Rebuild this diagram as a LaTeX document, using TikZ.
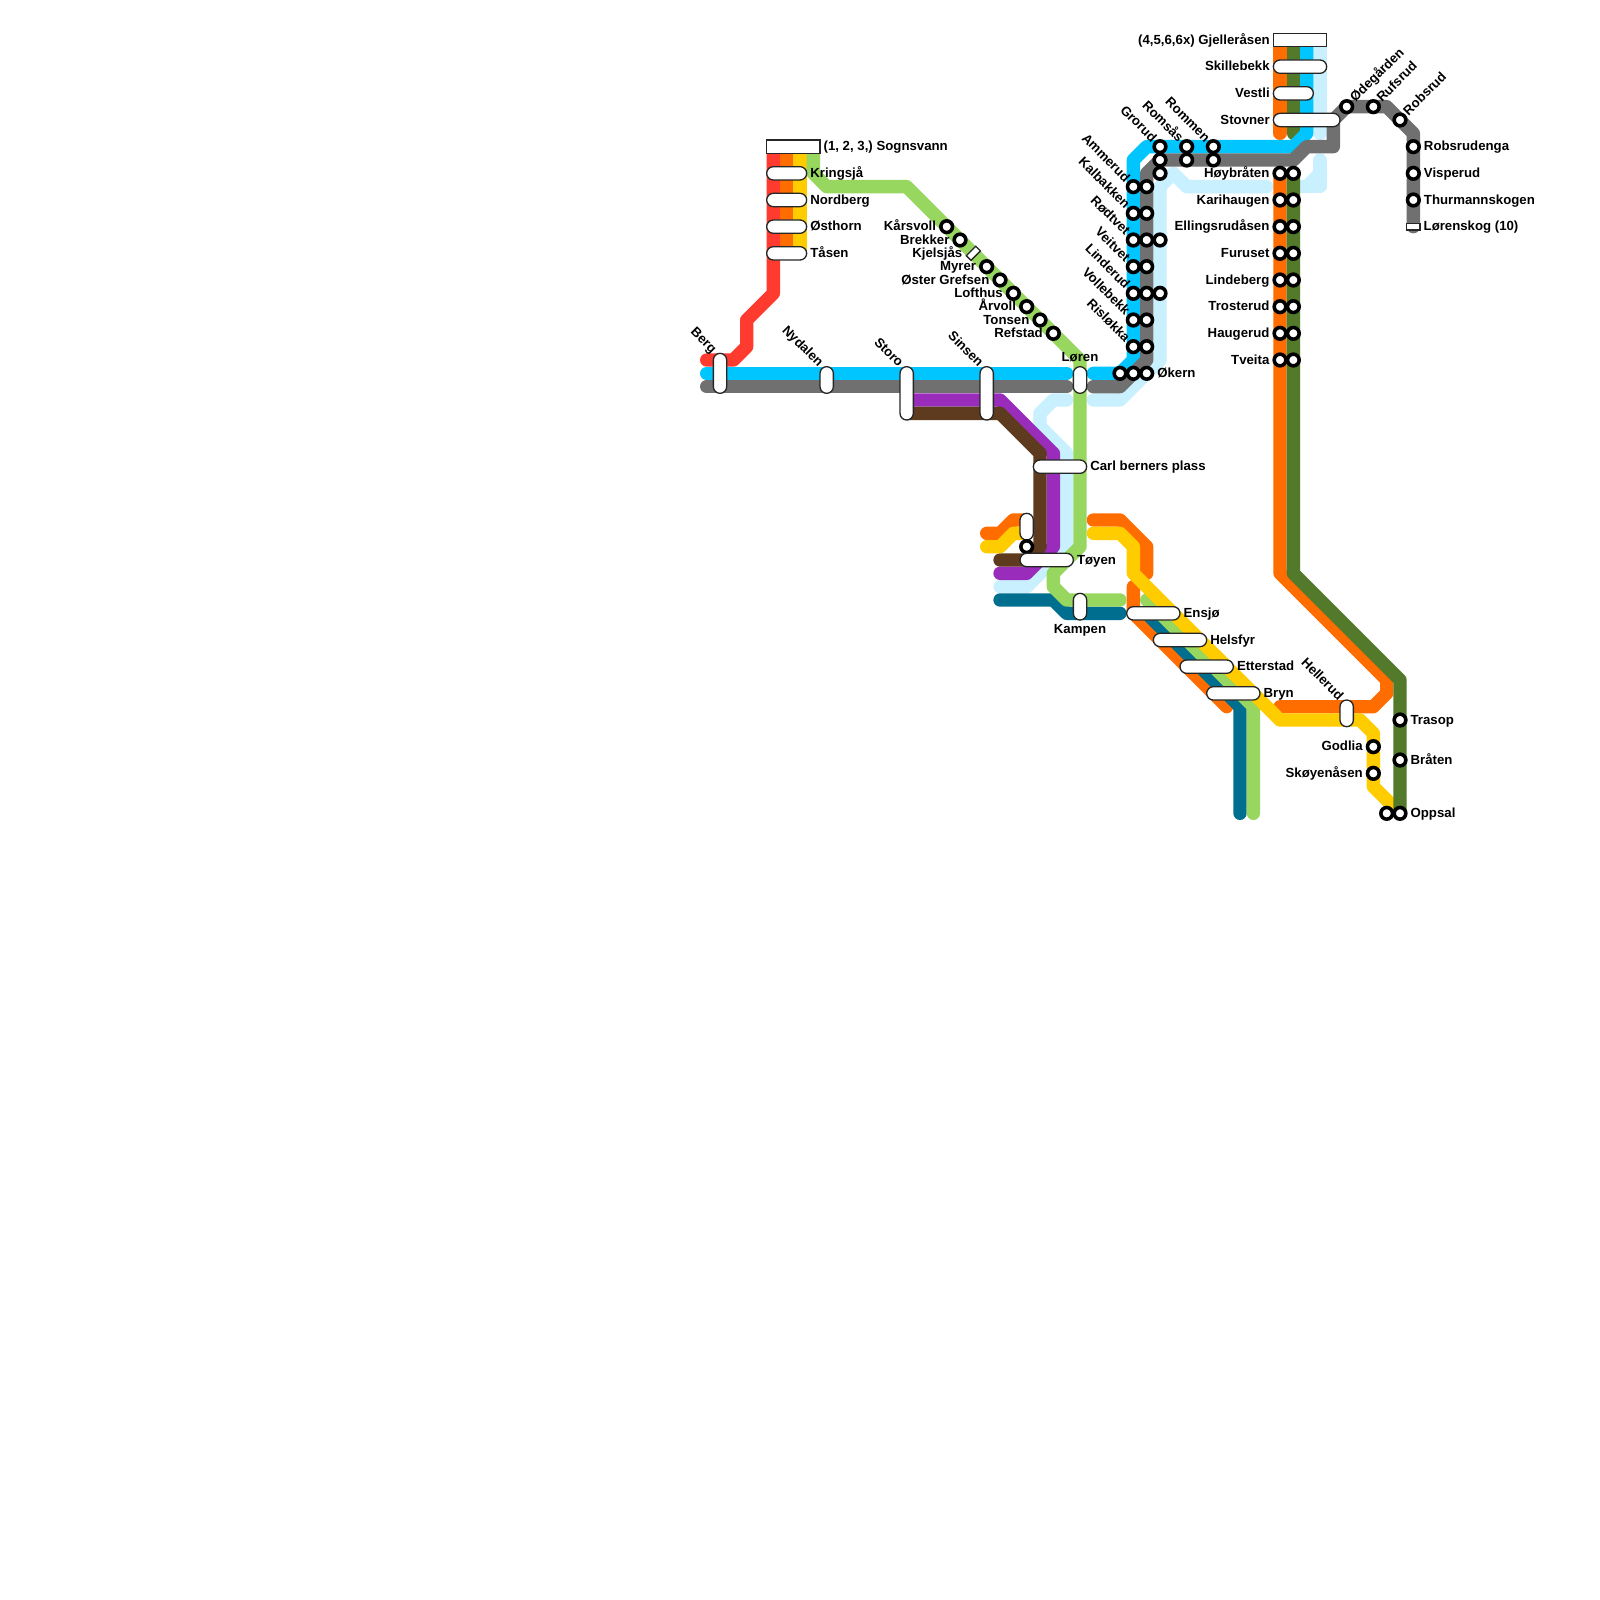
\documentclass[tikz,border=0pt]{standalone}
\usepackage{fontspec}
\setmainfont{Liberation Sans}
\usetikzlibrary{positioning}
\definecolor{cRed}{RGB}{255,59,48}
\definecolor{cOrange}{RGB}{255,108,0}
\definecolor{cYellow}{RGB}{255,204,0}
\definecolor{cGreen}{RGB}{151,214,95}
\definecolor{cBlue}{RGB}{0,197,255}
\definecolor{cGray}{RGB}{112,112,112}
\definecolor{cPurple}{RGB}{154,44,188}
\definecolor{cBrown}{RGB}{94,58,30}
\definecolor{cLight}{RGB}{201,240,255}
\definecolor{cTeal}{RGB}{0,111,143}
\definecolor{cDark}{RGB}{82,122,42}
\begin{document}
\begin{tikzpicture}[x=0.25cm, y=-0.25cm,
            ln/.style={line width=0.25cm, line cap=round, line join=round},
            st/.style={circle, draw=black, fill=white, line width=1.9pt, minimum size=0.2185cm, inner sep=0pt},
            pl/.style={rectangle, draw=black!85, fill=white, line width=0.7pt, rounded corners=0.125cm, inner sep=0pt},
            hp/.style={pl, minimum width=#1*0.25cm, minimum height=0.25cm},
            vp/.style={pl, minimum width=0.25cm, minimum height=#1*0.25cm},
            bx/.style={rectangle, draw=black!85, fill=white, line width=0.7pt, inner sep=0pt, minimum width=1cm, minimum height=0.25cm},
            mb/.style={rectangle, draw=black!85, fill=white, line width=0.7pt, inner sep=0pt, minimum width=0.25cm, minimum height=0.125cm},
            tx/.style={font=\fontsize{7.05}{8}\selectfont\bfseries, inner xsep=1.4pt, inner ysep=0pt, text height=6pt, text depth=1.4pt},
            nw/.style={yshift=0.7pt, tx, inner xsep=0pt, rotate=-45, anchor=east},
            ne/.style={yshift=0.7pt, tx, inner xsep=0pt, rotate=45, anchor=west},
            np/.style={xshift=-0.1cm, nw}]
            \useasboundingbox (0,0) rectangle (120,120);
            \fill[white] (0,0) rectangle (120,120);
            \draw[ln, cLight] (80,30)--(79,30)--(78,31)--(78,32)--(80,34)--(80,41)--(77,44)--(75,44);
            \draw[ln, cLight] (82,30)--(84,30)--(87,27)--(87,14)--(88,13)--(89,14)--(95,14);
            \draw[ln, cLight] (97,14)--(99,14)--(99,12);
            \draw[ln, cLight] (98,14)--(99,13);
            \draw[ln, cLight] (99,3)--(99,10);
            \draw[ln, cRed] (58,11)--(58,22)--(56,24)--(56,26)--(55,27)--(53,27);
            \draw[ln, cOrange] (59,11)--(59,19);
            \draw[ln, cYellow] (60,11)--(60,19);
            \draw[ln, cBlue] (53,28)--(80,28);
            \draw[ln, cGray] (53,29)--(80,29);
            \draw[ln, cPurple] (68,30)--(75,30)--(79,34)--(79,41)--(77,43)--(75,43);
            \draw[ln, cBrown] (68,31)--(75,31)--(78,34)--(78,41)--(77,42)--(75,42);
            \draw[ln, cOrange] (74,40)--(75,40)--(76,39)--(77,39);
            \draw[ln, cYellow] (74,41)--(75,41)--(76,40)--(77,40);
            \draw[ln, cOrange] (82,39)--(84,39)--(86,41)--(86,43);
            \draw[ln, cOrange] (85,44)--(85,46)--(92,53);
            \draw[ln, cOrange] (96,3)--(96,10);
            \draw[ln, cOrange] (96,13)--(96,43)--(104,51)--(104,52)--(103,53)--(96,53);
            \draw[ln, cTeal] (75,45)--(79,45)--(80,46)--(84,46);
            \draw[ln, cTeal] (86,46)--(93,53)--(93,61);
            \draw[ln, cGreen] (61,11)--(61,13)--(62,14)--(68,14)--(81,27)--(81,41)--(79,43)--(79,44)--(80,45)--(84,45);
            \draw[ln, cGreen] (86,45)--(94,53)--(94,61);
            \draw[ln, cYellow] (82,40)--(84,40)--(85,41)--(85,43)--(96,54)--(102,54)--(103,55)--(103,59)--(105,61);
            \draw[ln, cDark] (97,3)--(97,10);
            \draw[ln, cDark] (97,13)--(97,43)--(105,51)--(105,61);
            \draw[ln, cBlue] (98,3)--(98,10)--(97,11)--(86,11)--(85,12)--(85,27)--(84,28)--(82,28);
            \draw[ln, cGray] (82,29)--(84,29)--(86,27)--(86,13)--(87,12)--(97,12)--(98,11)--(100,11)--(100,9)--(101,8)--(104,8)--(106,10)--(106,17);

            \node[bx, label={[tx]right:(1, 2, 3,) Sognsvann}] (sognsvann) at (59.5,11) {};
            \node[hp=3, label={[tx]right:Kringsjå}] (kringsja) at (59,13) {};
            \node[hp=3, label={[tx]right:Nordberg}] (nordberg) at (59,15) {};
            \node[hp=3, label={[tx]right:Østhorn}] (osthorn) at (59,17) {};
            \node[hp=3, label={[tx]right:Tåsen}] (tasen) at (59,19) {};
            \node[vp=3, label={[np]north:Berg}] (berg) at (54,28) {};
            \node[vp=2, label={[np]north:Nydalen}] (nydalen) at (62,28.5) {};
            \node[vp=4, label={[np]north:Storo}] (storo) at (68,29.5) {};
            \node[vp=4, label={[np]north:Sinsen}] (sinsen) at (74,29.5) {};
            \node[vp=2, label={[tx, yshift=1.05pt]north:Løren}] (loren) at (81,28.5) {};

            \node[st, label={[tx]left:Kårsvoll}] (karsvoll) at (71,17) {};
            \node[st, label={[tx]left:Brekker}] (brekker) at (72,18) {};
            \node[mb, rotate=45] (kjelsjas) at (73,19) {};
            \node[tx, inner xsep=0pt, left=0.2cm of kjelsjas.center] (kjelsjasT) {Kjelsjås};
            \node[st, label={[tx]left:Myrer}] (myrer) at (74,20) {};
            \node[st, label={[tx]left:Øster Grefsen}] (grefsen) at (75,21) {};
            \node[st, label={[tx]left:Lofthus}] (lofthus) at (76,22) {};
            \node[st, label={[tx]left:Årvoll}] (arvoll) at (77,23) {};
            \node[st, label={[tx]left:Tonsen}] (tonsen) at (78,24) {};
            \node[st, label={[tx]left:Refstad}] (refstad) at (79,25) {};

            \node[hp=4, label={[tx]right:Carl berners plass}] (carl) at (79.5,35) {};
            \node[vp=2] (tyenA) at (77,39.5) {};
            \node[st] (tyenB) at (77,41) {};
            \node[hp=4, label={[tx]right:Tøyen}] (toyen) at (78.5,42) {};
            \node[vp=2, label={[tx, yshift=-0.5pt]south:Kampen}] (kampen) at (81,45.5) {};
            \node[hp=4, label={[tx]right:Ensjø}] (ensjo) at (86.5,46) {};
            \node[hp=4, label={[tx]right:Helsfyr}] (helsfyr) at (88.5,48) {};
            \node[hp=4, label={[tx]right:Etterstad}] (etterstad) at (90.5,50) {};
            \node[hp=4, label={[tx]right:Bryn}] (bryn) at (92.5,52) {};
            \node[vp=2, label={[np]north:Hellerud}] (hellerud) at (101,53.5) {};

            \node[st, label={[nw]135:Grorud}] (grorudA) at (87,11) {};
            \node[st] (grorudB) at (87,12) {};
            \node[st] (grorudC) at (87,13) {};
            \node[st, label={[nw]135:Romsås}] (romsasA) at (89,11) {};
            \node[st] (romsasB) at (89,12) {};
            \node[st, label={[nw]135:Rommen}] (rommenA) at (91,11) {};
            \node[st] (rommenB) at (91,12) {};
            \node[st, label={[nw]135:Ammerud}] (ammerudA) at (85,14) {};
            \node[st] (ammerudB) at (86,14) {};
            \node[st, label={[nw]135:Kalbakken}] (kalbakkenA) at (85,16) {};
            \node[st] (kalbakkenB) at (86,16) {};
            \node[st, label={[nw]135:Rødtvet}] (rodtvetA) at (85,18) {};
            \node[st] (rodtvetB) at (86,18) {};
            \node[st] (rodtvetC) at (87,18) {};
            \node[st, label={[nw]135:Veitvet}] (veitvetA) at (85,20) {};
            \node[st] (veitvetB) at (86,20) {};
            \node[st, label={[nw]135:Linderud}] (linderudA) at (85,22) {};
            \node[st] (linderudB) at (86,22) {};
            \node[st] (linderudC) at (87,22) {};
            \node[st, label={[nw]135:Vollebekk}] (vollebekkA) at (85,24) {};
            \node[st] (vollebekkB) at (86,24) {};
            \node[st, label={[nw]135:Risløkka}] (rislokkaA) at (85,26) {};
            \node[st] (rislokkaB) at (86,26) {};
            \node[st] (okernA) at (84,28) {};
            \node[st] (okernB) at (85,28) {};
            \node[st, label={[tx]right:Økern}] (okernC) at (86,28) {};

            \node[bx, label={[tx]left:(4,5,6,6x) Gjelleråsen}] (gjellerasen) at (97.5,3) {};
            \node[hp=4, label={[tx]left:Skillebekk}] (skillebekk) at (97.5,5) {};
            \node[hp=3, label={[tx]left:Vestli}] (vestli) at (97,7) {};
            \node[hp=5, label={[tx]left:Stovner}] (stovner) at (98,9) {};
            \node[st, label={[tx]left:Høybråten}] (hoybratenA) at (96,13) {};
            \node[st] (hoybratenB) at (97,13) {};
            \node[st, label={[tx]left:Karihaugen}] (karihaugenA) at (96,15) {};
            \node[st] (karihaugenB) at (97,15) {};
            \node[st, label={[tx]left:Ellingsrudåsen}] (ellingsrudA) at (96,17) {};
            \node[st] (ellingsrudB) at (97,17) {};
            \node[st, label={[tx]left:Furuset}] (furusetA) at (96,19) {};
            \node[st] (furusetB) at (97,19) {};
            \node[st, label={[tx]left:Lindeberg}] (lindebergA) at (96,21) {};
            \node[st] (lindebergB) at (97,21) {};
            \node[st, label={[tx]left:Trosterud}] (trosterudA) at (96,23) {};
            \node[st] (trosterudB) at (97,23) {};
            \node[st, label={[tx]left:Haugerud}] (haugerudA) at (96,25) {};
            \node[st] (haugerudB) at (97,25) {};
            \node[st, label={[tx]left:Tveita}] (tveitaA) at (96,27) {};
            \node[st] (tveitaB) at (97,27) {};

            \node[st, label={[ne]45:Ødegården}] (odegarden) at (101,8) {};
            \node[st, label={[ne]45:Rufsrud}] (rufsrud) at (103,8) {};
            \node[st, label={[ne]45:Robsrud}] (robsrud) at (105,9) {};
            \node[st, label={[tx]right:Robsrudenga}] (robsrudenga) at (106,11) {};
            \node[st, label={[tx]right:Visperud}] (visperud) at (106,13) {};
            \node[st, label={[tx]right:Thurmannskogen}] (thurmann) at (106,15) {};
            \node[mb, label={[tx]right:Lørenskog (10)}] (lorenskog) at (106,17) {};

            \node[st, label={[tx]left:Godlia}] (godlia) at (103,56) {};
            \node[st, label={[tx]left:Skøyenåsen}] (skoyenasen) at (103,58) {};
            \node[st, label={[tx]right:Trasop}] (trasop) at (105,54) {};
            \node[st, label={[tx]right:Bråten}] (braten) at (105,57) {};
            \node[st] (oppsalA) at (104,61) {};
            \node[st, label={[tx]right:Oppsal}] (oppsalB) at (105,61) {};
        \end{tikzpicture}
\end{document}
